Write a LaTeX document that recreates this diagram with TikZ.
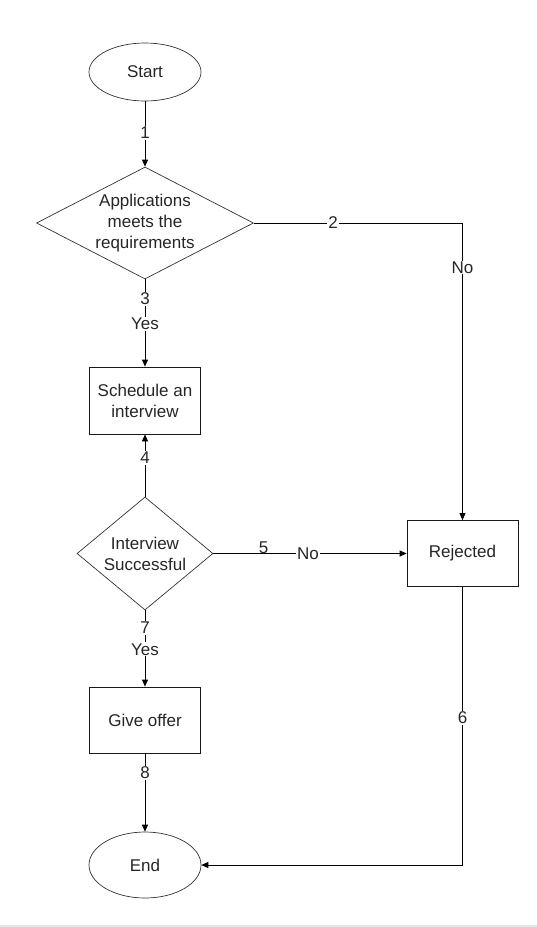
\documentclass[tikz,border=0pt]{standalone}
\usepackage{fontspec}
\setmainfont{Liberation Sans}
\usetikzlibrary{shapes.geometric,arrows.meta}
\begin{document}
\begin{tikzpicture}[x=1pt,y=-1pt,
  every node/.style={font=\fontsize{17}{21}\selectfont, text=black!85},
  term/.style={draw=black!80, line width=0.7pt, ellipse, minimum width=112pt},
  proc/.style={draw=black!90, line width=0.8pt, rectangle, minimum width=111pt, minimum height=67pt, align=center, inner sep=0pt},
  decis/.style={draw=black!80, line width=0.7pt, diamond, inner sep=0pt},
  conn/.style={draw=black, line width=0.8pt},
  arr/.style={conn, -{Triangle[length=7pt,width=6pt]}},
  lbl/.style={fill=white, inner sep=1pt}]
\path[fill=white] (0,0) rectangle (537,927);
\path[fill=black!10] (0,925) rectangle (537,927);
\useasboundingbox (0,0) rectangle (537,927);

\node[term, minimum height=58pt] (start) at (145,72) {Start};
\node[decis, minimum width=217pt, minimum height=112pt,
  label={[align=center]center:Applications\\meets the\\requirements}] (d1) at (145,223) {};
\node[proc] (sched) at (145,400.5) {Schedule an\\interview};
\node[decis, minimum width=136pt, minimum height=113pt,
  label={[align=center]center:Interview\\Successful}] (d2) at (145,553.5) {};
\node[proc, minimum height=66pt] (rej) at (462.5,553.5) {Rejected};
\node[proc, minimum height=66pt] (offer) at (145,720) {Give offer};
\node[term, minimum height=66pt] (end) at (145,865) {End};

\coordinate (c2) at (rej.north |- d1.east);
\coordinate (c6) at (rej.south |- end.east);

\draw[arr] (start) -- node[lbl, pos=0.48]{1} (d1);
\draw[conn] (d1.east) -- node[lbl, pos=0.38]{2} (c2);
\draw[arr] (c2) -- node[lbl, pos=0.15]{No} (rej.north);
\draw[arr] (d1.south) -- node[lbl, pos=0.22]{3} node[lbl, pos=0.51]{Yes} (sched.north);
\draw[arr] (d2.north) -- node[lbl, pos=0.62]{4} (sched.south);
\draw[arr] (d2.east) -- node[pos=0.26, above, inner sep=0.5pt, yshift=-1pt]{5} node[lbl, pos=0.49]{No} (rej.west);
\draw[conn] (rej.south) -- node[lbl, pos=0.47]{6} (c6);
\draw[arr] (c6) -- (end.east);
\draw[arr] (d2.south) -- node[lbl, pos=0.23]{7} node[lbl, pos=0.51]{Yes} (offer.north);
\draw[arr] (offer.south) -- node[lbl, pos=0.25]{8} (end.north);
\end{tikzpicture}
\end{document}
